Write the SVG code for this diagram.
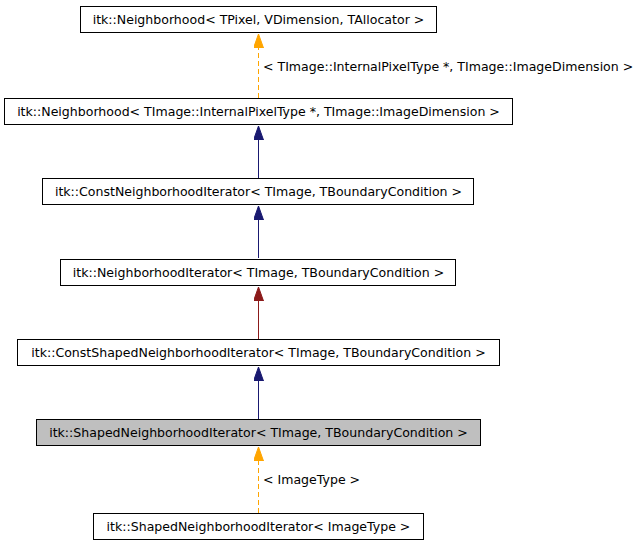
<svg xmlns="http://www.w3.org/2000/svg" width="641" height="547" viewBox="0 0 641 547">
<style>
.box{fill:#fff;stroke:#000;stroke-width:1}
.sel{fill:#bfbfbf;stroke:#000;stroke-width:1}
text{font-family:"DejaVu Sans",sans-serif;font-size:12.55px;fill:#000;text-anchor:middle}
.lbl{text-anchor:start}
.inh{stroke:#191970;stroke-width:1;fill:none}
.prv{stroke:#8b1a1a;stroke-width:1;fill:none}
.tpl{stroke:#ffa500;stroke-width:1;fill:none;stroke-dasharray:5,3}
</style>
<defs>
<marker id="aB" markerWidth="16" markerHeight="12" refX="14" refY="5" orient="auto" markerUnits="userSpaceOnUse"><path d="M0,0 L14,5 L0,10 Z" fill="#191970" stroke="#191970"/></marker>
<marker id="aR" markerWidth="16" markerHeight="12" refX="14" refY="5" orient="auto" markerUnits="userSpaceOnUse"><path d="M0,0 L14,5 L0,10 Z" fill="#8b1a1a" stroke="#8b1a1a"/></marker>
<marker id="aO" markerWidth="16" markerHeight="12" refX="14" refY="5" orient="auto" markerUnits="userSpaceOnUse"><path d="M0,0 L14,5 L0,10 Z" fill="#ffa500" stroke="#ffa500"/></marker>
</defs>
<g id="edges">
<line class="tpl" x1="258.5" y1="98" x2="258.5" y2="34" marker-end="url(#aO)"/>
<text class="lbl" x="263" y="71">&lt; TImage::InternalPixelType *, TImage::ImageDimension &gt;</text>
<line class="inh" x1="258.5" y1="178" x2="258.5" y2="126" marker-end="url(#aB)"/>
<line class="inh" x1="258.5" y1="258" x2="258.5" y2="206" marker-end="url(#aB)"/>
<line class="prv" x1="258.5" y1="339" x2="258.5" y2="287" marker-end="url(#aR)"/>
<line class="inh" x1="258.5" y1="419" x2="258.5" y2="367" marker-end="url(#aB)"/>
<line class="tpl" x1="258.5" y1="513" x2="258.5" y2="447" marker-end="url(#aO)"/>
<text class="lbl" x="263" y="484">&lt; ImageType &gt;</text>
</g>
<g id="n1"><rect class="box" x="80.5" y="6.5" width="356" height="26"/><text x="258.5" y="24">itk::Neighborhood&lt; TPixel, VDimension, TAllocator &gt;</text></g>
<g id="n2"><rect class="box" x="4.5" y="98.5" width="508" height="26"/><text x="258.5" y="116">itk::Neighborhood&lt; TImage::InternalPixelType *, TImage::ImageDimension &gt;</text></g>
<g id="n3"><rect class="box" x="42.5" y="178.5" width="431" height="26"/><text x="258.5" y="196">itk::ConstNeighborhoodIterator&lt; TImage, TBoundaryCondition &gt;</text></g>
<g id="n4"><rect class="box" x="60.5" y="259.5" width="395" height="26"/><text x="258.5" y="277">itk::NeighborhoodIterator&lt; TImage, TBoundaryCondition &gt;</text></g>
<g id="n5"><rect class="box" x="17.5" y="339.5" width="482" height="26"/><text x="258.5" y="357">itk::ConstShapedNeighborhoodIterator&lt; TImage, TBoundaryCondition &gt;</text></g>
<g id="n6"><rect class="sel" x="36.5" y="419.5" width="444" height="26"/><text x="258.5" y="437">itk::ShapedNeighborhoodIterator&lt; TImage, TBoundaryCondition &gt;</text></g>
<g id="n7"><rect class="box" x="93.5" y="513.5" width="330" height="26"/><text x="258.5" y="531">itk::ShapedNeighborhoodIterator&lt; ImageType &gt;</text></g>
</svg>
